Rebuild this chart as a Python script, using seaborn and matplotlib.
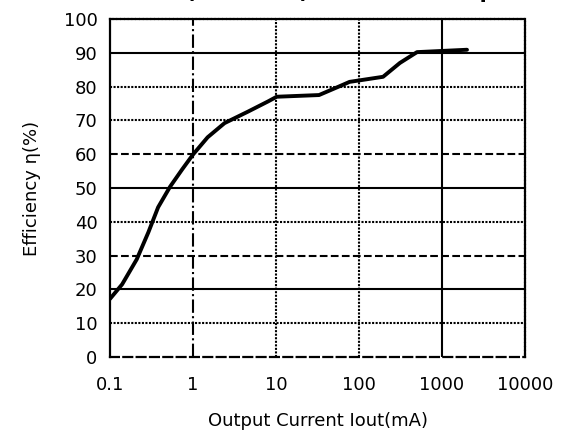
import matplotlib
matplotlib.use("Agg")
import matplotlib.pyplot as plt
import seaborn as sns
import pandas as pd

# Data
current_ma = [0.1, 0.14, 0.21, 0.29, 0.38, 0.53, 0.74, 1.0, 1.5, 2.4, 4.6, 8,
              10.2, 33, 57, 77, 195, 311, 500, 2000]
efficiency = [17.2, 21.5, 28.9, 36.9, 44.3, 50.4, 55.5, 59.9, 65.0, 69.2, 72.6, 75.6,
              77, 77.5, 80, 81.4, 82.9, 87, 90.2, 90.9]
x_ticks = [0.1, 1, 10, 100, 1000, 10000]
x_tick_labels = ["0.1", "1", "10", "100", "1000", "10000"]
y_ticks = [0, 10, 20, 30, 40, 50, 60, 70, 80, 90, 100]

df = pd.DataFrame({"Iout": current_ma, "Eff": efficiency})

sns.set_theme(style="white")
plt.rcParams["font.family"] = ["DejaVu Sans"]

fig = plt.figure(figsize=(5.68, 4.30), dpi=100)
ax = fig.add_axes([110 / 568, 1 - 357 / 430, (525 - 110) / 568, (357 - 19) / 430])

dotted = (0, (1, 0.7))
# grid lines with the mixed styles of the reference
h_styles = {10: dotted, 20: "solid", 30: "dashed", 40: dotted, 50: "solid",
            60: "dashed", 70: dotted, 80: dotted, 90: "solid"}
for yv, ls in h_styles.items():
    ax.axhline(yv, color="black", lw=1.5, ls=ls, zorder=1)
v_styles = {1: "dashdot", 10: dotted, 100: dotted, 1000: "solid"}
for xv, ls in v_styles.items():
    ax.axvline(xv, color="black", lw=1.5, ls=ls, zorder=1)

sns.lineplot(data=df, x="Iout", y="Eff", color="black", lw=2.8, ax=ax, zorder=3)

ax.set_xscale("log")
ax.set_xlim(0.1, 10000)
ax.set_ylim(0, 100)
ax.set_xticks(x_ticks)
ax.set_xticklabels(x_tick_labels)
ax.set_yticks(y_ticks)
ax.minorticks_off()
ax.tick_params(axis="x", length=0, pad=14, labelsize=13, colors="black")
ax.tick_params(axis="y", length=0, pad=9, labelsize=13, colors="black")

for side, sp in ax.spines.items():
    sp.set_color("black")
    sp.set_linewidth(1.6)
ax.spines["top"].set_linestyle(dotted)
ax.spines["right"].set_linestyle(dotted)
ax.spines["bottom"].set_linestyle((0, (4, 2)))

ax.set_xlabel("Output Current Iout(mA)", fontsize=13, labelpad=13, color="black")
ax.set_ylabel("Efficiency η(%)", fontsize=13, labelpad=16, color="black")

# clipped title at the very top, as in the reference
fig.text(0.327, 1 + 2 / 430, "(VIN=12V) BOOST vs Output", fontsize=15,
         fontweight="bold", ha="left", va="baseline", color="black")

fig.savefig("out.png", dpi=100)
